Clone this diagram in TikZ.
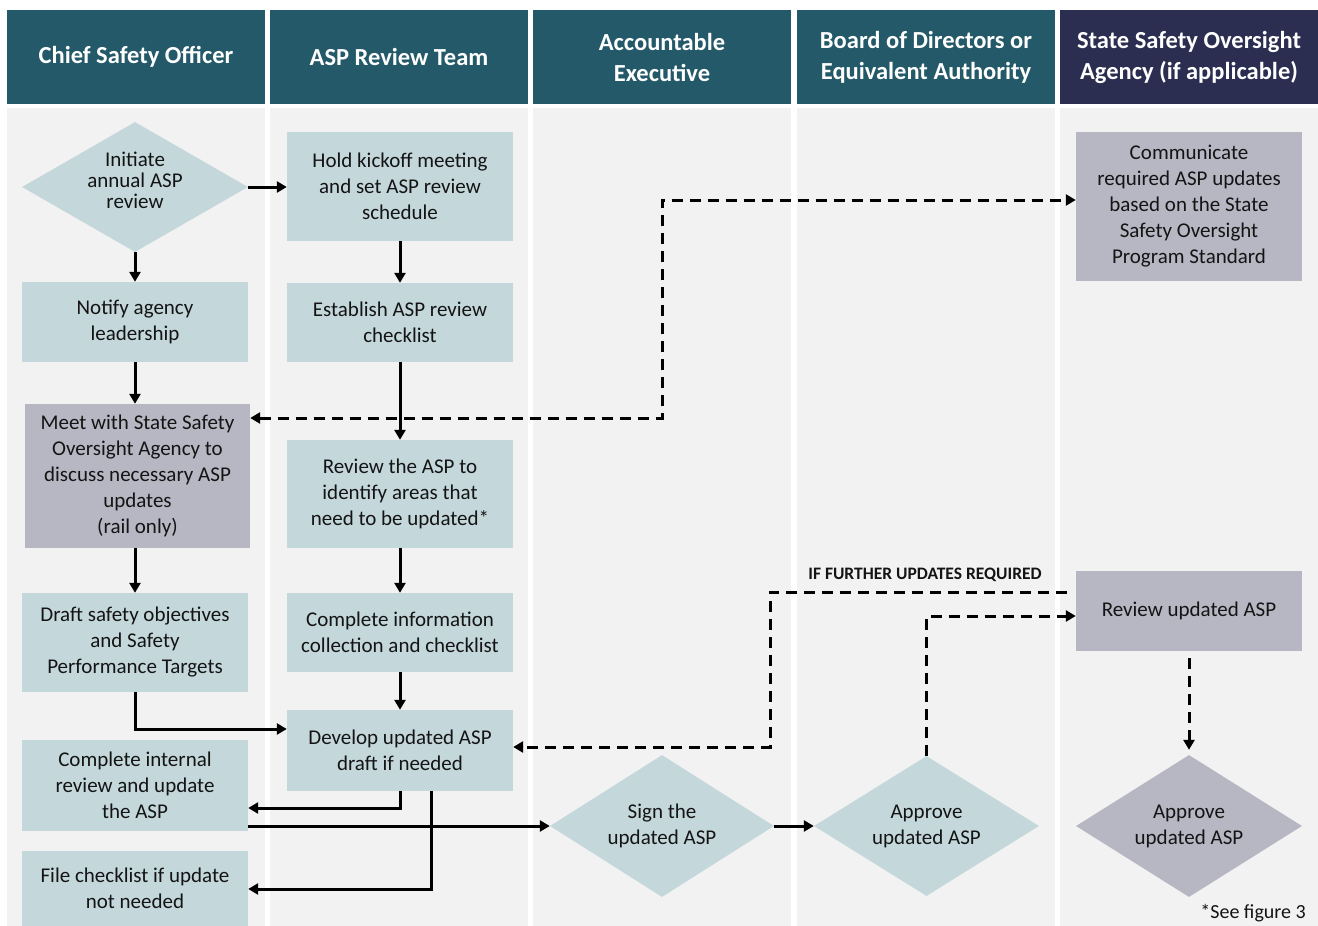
\documentclass[tikz,border=0pt]{standalone}
\usepackage{fontspec}
\setmainfont{Carlito}
\usetikzlibrary{shapes.geometric,arrows.meta,calc}
\definecolor{hdr}{RGB}{35,89,104}
\definecolor{hdrnavy}{RGB}{43,46,80}
\definecolor{lane}{RGB}{242,242,242}
\definecolor{tealbox}{RGB}{196,216,219}
\definecolor{greybox}{RGB}{183,183,196}
\definecolor{txt}{RGB}{20,20,20}
\tikzset{
  hdrbox/.style={rectangle, fill=hdr, inner sep=0pt, minimum width=258pt, minimum height=94pt, text=white, align=center, font=\bfseries\fontsize{24.5}{31}\selectfont},
  stepbox/.style={rectangle, fill=tealbox, inner sep=0pt, minimum width=226pt, align=center, text=txt, font=\fontsize{21}{26}\selectfont},
  greystep/.style={stepbox, fill=greybox},
  decbox/.style={diamond, fill=tealbox, inner sep=0pt, aspect=1.6, align=center, text=txt, font=\fontsize{21}{26}\selectfont},
  conn/.style={line width=3pt, -{Triangle[length=10pt,width=11pt]}},
  dconn/.style={conn, dash pattern=on 11pt off 7pt},
}
\begin{document}
\begin{tikzpicture}[x=1pt,y=-1pt]
\useasboundingbox (0,0) rectangle (1318,926);
\fill[white] (0,0) rectangle (1318,926);
% lanes
\fill[lane] (7,108) rectangle (265,926);
\fill[lane] (270,108) rectangle (528,926);
\fill[lane] (533,108) rectangle (791,926);
\fill[lane] (797,108) rectangle (1055,926);
\fill[lane] (1060,108) rectangle (1318,926);
% headers
\node[hdrbox] (h1) at (136,57) {Chief Safety Officer};
\node[hdrbox] (h2) at (399,57) {ASP Review Team};
\node[hdrbox] (h3) at (662,57) {Accountable\\Executive};
\node[hdrbox] (h4) at (926,57) {Board of Directors or\\Equivalent Authority};
\node[hdrbox, fill=hdrnavy] (h5) at (1189,57) {State Safety Oversight\\Agency (if applicable)};
% column 1
\node[decbox, minimum width=226pt, minimum height=130pt, font=\fontsize{21}{21}\selectfont] (d1) at (135,187) {Initiate\\annual ASP\\review\\[-8pt]\mbox{}};
\node[stepbox, minimum height=80pt] (notify) at (135,322) {Notify agency\\leadership};
\node[greystep, minimum width=225pt, minimum height=144pt] (meet) at (137.5,476) {Meet with State Safety\\Oversight Agency to\\discuss necessary ASP\\updates\\(rail only)};
\node[stepbox, minimum height=99pt] (draft) at (135,642.5) {Draft safety objectives\\and Safety\\Performance Targets};
\node[stepbox, minimum height=91pt] (internal) at (135,785.5) {Complete internal\\review and update\\the ASP};
\node[stepbox, minimum height=75pt] (file) at (135,888.5) {File checklist if update\\not needed};
% column 2
\node[stepbox, minimum height=109pt] (hold) at (400,186.5) {Hold kickoff meeting\\and set ASP review\\schedule};
\node[stepbox, minimum height=79pt] (establish) at (400,322.5) {Establish ASP review\\checklist};
\node[stepbox, minimum height=108pt] (review) at (400,494) {Review the ASP to\\identify areas that\\need to be updated*};
\node[stepbox, minimum height=79pt] (compinfo) at (400,632.5) {Complete information\\collection and checklist};
\node[stepbox, minimum height=81pt] (develop) at (400,750.5) {Develop updated ASP\\draft if needed};
% column 3, 4
\node[decbox, minimum width=224pt, minimum height=142pt] (sign) at (662,826) {Sign the\\updated ASP};
\node[decbox, minimum width=225pt, minimum height=140pt] (approve) at (926.5,826) {Approve\\updated ASP};
% column 5
\node[greystep, minimum height=149pt] (comm) at (1189,206.5) {Communicate\\required ASP updates\\based on the State\\Safety Oversight\\Program Standard};
\node[greystep, minimum height=80pt] (revupd) at (1189,611) {Review updated ASP};
\node[decbox, fill=greybox, minimum width=226pt, minimum height=142pt] (approve2) at (1189,826) {Approve\\updated ASP};
% labels
\node[font=\bfseries\fontsize{17.5}{20}\selectfont, text=txt] (lbl) at (925,575) {IF FURTHER UPDATES REQUIRED};
\node[anchor=east, font=\fontsize{20}{24}\selectfont, text=txt, inner sep=0pt] (note) at (1306,913) {*See figure 3};
% helper coordinates
\coordinate (y729) at (0,729);
\coordinate (y808) at (0,808);
\coordinate (y889) at (0,889);
\coordinate (x431) at (431,0);
\coordinate (j1) at (662,418);
\coordinate (j2) at (662,200);
\coordinate (y616) at (0,616);
\coordinate (k1) at (770,592);
\coordinate (k2) at (770,747);
% solid connectors
\draw[conn] (d1.east) -- (d1.east -| hold.west);
\draw[conn] (d1.south) -- (notify.north);
\draw[conn] (hold.south) -- (establish.north);
\draw[conn] (notify.south) -- (notify.south |- meet.north);
\draw[conn] (establish.south) -- (review.north);
\draw[conn] (draft.north |- meet.south) -- (draft.north);
\draw[conn] (review.south) -- (compinfo.north);
\draw[conn] (compinfo.south) -- (develop.north);
\draw[conn] (draft.south) |- (develop.west |- y729);
\draw[conn] (develop.south) |- (internal.east |- y808);
\draw[conn] (develop.south -| x431) |- (file.east |- y889);
\draw[conn] (internal.east |- sign.west) -- (sign.west);
\draw[conn] (sign.east) -- (approve.west);
% dashed connectors
\draw[dconn, {Triangle[length=10pt,width=11pt]}-{Triangle[length=10pt,width=11pt]}] (meet.east |- j1) -- (j1) -- (j2) -- (j2 -| comm.west);
\draw[dconn] (approve.north) |- (revupd.west |- y616);
\draw[dconn] ([xshift=-9pt]revupd.west |- k1) -- (k1) -- (k2) -- (develop.east |- k2);
\draw[dconn] ([yshift=-7pt]revupd.south) -- ([yshift=5pt]approve2.north);
\end{tikzpicture}
\end{document}
